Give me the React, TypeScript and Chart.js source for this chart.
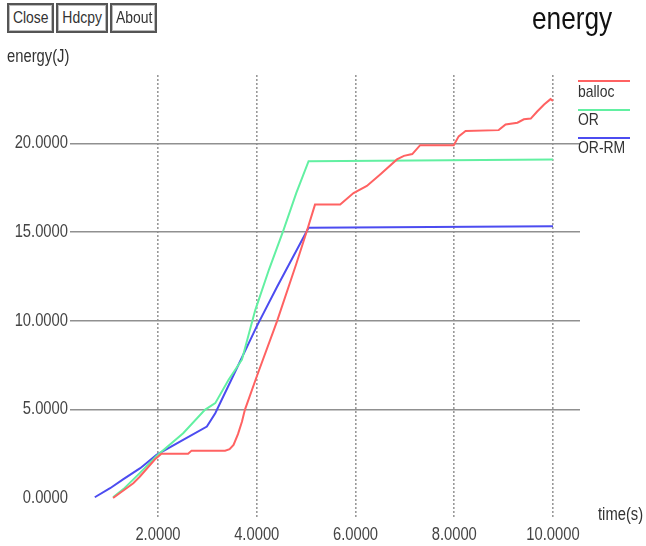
import React, { useEffect, useRef } from "react";
import { Chart, registerables } from "chart.js";

Chart.register(...registerables);

const xTicks = [2, 4, 6, 8, 10];
const yTicks = [0, 5, 10, 15, 20];

const ballocTime = [1.09, 1.5, 1.63, 1.94, 2.07, 2.61, 2.68, 3.36, 3.45, 3.53, 3.62, 3.7, 3.76, 4.0, 4.41, 4.8, 5.02, 5.18, 5.69, 5.96, 6.23, 6.5, 6.84, 6.98, 7.15, 7.31, 7.99, 8.09, 8.23, 8.9, 9.04, 9.28, 9.41, 9.55, 9.68, 9.82, 9.95, 10.0];
const ballocEnergy = [0, 0.83, 1.2, 2.18, 2.49, 2.49, 2.67, 2.67, 2.75, 2.99, 3.6, 4.3, 4.97, 6.85, 9.96, 13.2, 15.1, 16.55, 16.55, 17.2, 17.6, 18.25, 19.1, 19.3, 19.4, 19.9, 19.9, 20.4, 20.7, 20.75, 21.07, 21.17, 21.36, 21.4, 21.8, 22.2, 22.5, 22.4];

const orTime = [1.09, 1.3, 1.63, 1.97, 2.51, 2.95, 3.16, 3.43, 3.7, 3.97, 4.25, 4.54, 4.8, 5.05, 10.0];
const orEnergy = [0.04, 0.5, 1.4, 2.37, 3.65, 4.97, 5.35, 6.67, 7.8, 10.6, 12.9, 15.1, 17.2, 19.0, 19.1];

const ormTime = [0.72, 1.03, 1.3, 1.64, 1.97, 2.5, 2.99, 3.16, 3.49, 4.0, 4.41, 5.05, 10.0];
const ormEnergy = [0.04, 0.55, 1.06, 1.68, 2.43, 3.26, 4.03, 4.78, 6.7, 9.68, 11.9, 15.24, 15.33];

const seriesNames = ["balloc", "OR", "OR-RM"];
const seriesColors = ["#ff6262", "#62f0a2", "#4c4cf0"];

const FONT = "'Liberation Sans', Arial, sans-serif";
const NARROW = 0.82;

const toPoints = (xs: number[], ys: number[]) => xs.map((x, i) => ({ x, y: ys[i] }));

// Compress canvas text horizontally around its anchor to mimic a narrow font
const narrowTextPlugin = {
  id: "narrowText",
  beforeDraw(chart: any) {
    const ctx = chart.ctx;
    if (ctx.__origFill) return;
    const orig = ctx.fillText;
    ctx.__origFill = orig;
    ctx.fillText = function (text: string, x: number, y: number, mw?: number) {
      ctx.save();
      ctx.translate(x, y);
      ctx.scale(NARROW, 1);
      if (mw !== undefined) orig.call(ctx, text, 0, 0, mw);
      else orig.call(ctx, text, 0, 0);
      ctx.restore();
    };
  },
  afterDraw(chart: any) {
    const ctx = chart.ctx;
    if (ctx.__origFill) {
      ctx.fillText = ctx.__origFill;
      ctx.__origFill = undefined;
    }
  },
};

function Txt(props: { x: number; baseline: number; size: number; text: string; color?: string }) {
  const { x, baseline, size, text, color } = props;
  return (
    <div
      style={{
        position: "absolute",
        left: x,
        top: baseline - 0.85 * size,
        fontSize: size,
        lineHeight: 1,
        fontFamily: FONT,
        color: color || "#333",
        whiteSpace: "nowrap",
        transform: `scaleX(${NARROW})`,
        transformOrigin: "0 0",
      }}
    >
      {text}
    </div>
  );
}

function Btn(props: { x: number; w: number; text: string }) {
  return (
    <div
      style={{
        position: "absolute",
        left: props.x,
        top: 3,
        width: props.w,
        height: 30,
        boxSizing: "border-box",
        border: "2px solid #555",
        boxShadow: "inset 0 0 0 1px #bbb",
        fontFamily: FONT,
        fontSize: 17,
        color: "#333",
        textAlign: "center",
        lineHeight: "26px",
        background: "#fff",
        whiteSpace: "nowrap",
      }}
    >
      <span style={{ display: "inline-block", transform: `scaleX(${NARROW})` }}>{props.text}</span>
    </div>
  );
}

export default function App() {
  const ref = useRef<HTMLCanvasElement>(null);

  useEffect(() => {
    if (!ref.current) return;
    const data = [toPoints(ballocTime, ballocEnergy), toPoints(orTime, orEnergy), toPoints(ormTime, ormEnergy)];
    const chart = new Chart(ref.current, {
      type: "line",
      data: {
        datasets: data.map((d, i) => ({
          label: seriesNames[i],
          data: d,
          borderColor: seriesColors[i],
          backgroundColor: seriesColors[i],
          borderWidth: 2,
          pointRadius: 0,
          tension: 0,
          fill: false,
        })),
      },
      options: {
        animation: false,
        responsive: false,
        devicePixelRatio: 1,
        layout: { padding: { top: 75, right: 66, left: 0, bottom: 0 } },
        plugins: { legend: { display: false }, tooltip: { enabled: false }, title: { display: false } },
        scales: {
          x: {
            type: "linear",
            min: 0.218,
            max: 10.547,
            afterFit: (s: any) => {
              s.height = 28;
            },
            afterBuildTicks: (s: any) => {
              s.ticks = xTicks.map((v) => ({ value: v }));
            },
            ticks: {
              callback: (v: any) => Number(v).toFixed(4),
              font: { family: FONT, size: 18 },
              color: "#444",
              padding: 6,
              maxRotation: 0,
              autoSkip: false,
            },
            grid: { color: "#999", lineWidth: 1.6, drawTicks: false },
            border: { display: false, dash: [2, 2] },
          },
          y: {
            type: "linear",
            min: -1.13,
            max: 23.86,
            afterFit: (s: any) => {
              s.width = 70;
            },
            afterBuildTicks: (s: any) => {
              s.ticks = yTicks.map((v) => ({ value: v }));
            },
            ticks: {
              callback: (v: any) => Number(v).toFixed(4),
              font: { family: FONT, size: 18 },
              color: "#444",
              padding: 2,
              autoSkip: false,
            },
            grid: {
              color: (ctx: any) => (ctx.tick && ctx.tick.value === 0 ? "rgba(0,0,0,0)" : "#909090"),
              lineWidth: 1.6,
              drawTicks: false,
            },
            border: { display: false },
          },
        },
      },
      plugins: [narrowTextPlugin],
    });
    return () => chart.destroy();
  }, []);

  return (
    <div style={{ position: "fixed", left: 0, top: 0, width: 646, height: 546, background: "#fff", overflow: "hidden" }}>
      <canvas ref={ref} width={646} height={546} style={{ position: "absolute", left: 0, top: 0 }} />
      <Btn x={7} w={47} text="Close" />
      <Btn x={56} w={52} text="Hdcpy" />
      <Btn x={110} w={47} text="About" />
      <Txt x={532} baseline={29} size={32} text="energy" color="#111" />
      <Txt x={7} baseline={62} size={18} text="energy(J)" />
      <Txt x={598} baseline={520} size={18} text="time(s)" />
      {seriesNames.map((n, i) => (
        <React.Fragment key={n}>
          <div
            style={{
              position: "absolute",
              left: 578,
              top: 80 + i * 28.5,
              width: 52,
              height: 2,
              background: seriesColors[i],
            }}
          />
          <Txt x={578} baseline={97 + i * 28} size={17} text={n} />
        </React.Fragment>
      ))}
    </div>
  );
}
